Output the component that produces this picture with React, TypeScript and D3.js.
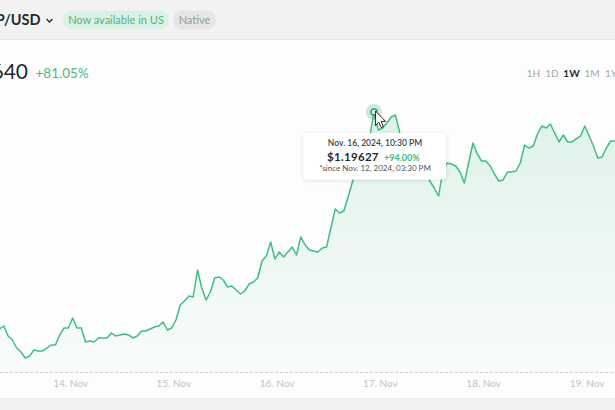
import React from "react";
import * as d3 from "d3";

// Hourly prices (USD), starting Nov 13 2024 06:30 UTC
const startTime = Date.UTC(2024, 10, 13, 6, 30);
const prices = [
  0.6917, 0.6986, 0.7055, 0.6826, 0.6734, 0.655, 0.6459, 0.6321, 0.6367, 0.6505,
  0.6482, 0.6482, 0.655, 0.6619, 0.6619, 0.6849, 0.7009, 0.7009,
  // Nov 14
  0.7238, 0.7009, 0.7009, 0.6688, 0.6711, 0.6688, 0.678, 0.678, 0.678, 0.6894,
  0.6826, 0.6849, 0.6871, 0.6849, 0.678, 0.6826, 0.694, 0.694, 0.6986, 0.7032,
  0.7055, 0.7147, 0.6963, 0.7009,
  // Nov 15
  0.7193, 0.7537, 0.7628, 0.7743, 0.772, 0.8339, 0.7926, 0.7651, 0.7835, 0.8156,
  0.8179, 0.811, 0.7949, 0.7972, 0.7881, 0.7789, 0.7858, 0.8018, 0.8064, 0.8156,
  0.8546, 0.866, 0.8981, 0.8592,
  // Nov 16
  0.8752, 0.8637, 0.8752, 0.8867, 0.8683, 0.9096, 0.8913, 0.8798, 0.8775, 0.8752,
  0.8844, 0.8867, 0.9302, 0.9738, 0.9647, 0.9692, 1.0013, 1.0357, 1.0679, 1.0977,
  1.1206, 1.1367, 1.19627, 1.155,
  // Nov 17
  1.1596, 1.1711, 1.1848, 1.1894, 1.1481, 1.1206, 1.1045, 1.1137, 1.0908, 1.0747,
  1.0587, 1.038, 1.022, 1.0036, 1.0587, 1.0793, 1.077, 1.0724, 1.0587, 1.0335,
  1.0793, 1.1252, 1.1, 1.0839,
  // Nov 18
  1.0839, 1.0724, 1.0541, 1.038, 1.0403, 1.0587, 1.0587, 1.061, 1.0793, 1.1206,
  1.1137, 1.1183, 1.1458, 1.1642, 1.1596, 1.1688, 1.1481, 1.1275, 1.1435, 1.1275,
  1.1275, 1.1344, 1.1412, 1.1642,
  // Nov 19
  1.1412, 1.1183, 1.0908, 1.0931, 1.1137, 1.1298, 1.1298, 1.1275,
];
const periods = ["1H", "1D", "1W", "1M", "1Y"];
const activePeriod = "1W";
const tooltipTime = Date.UTC(2024, 10, 16, 22, 30);
const tooltipDate = "Nov. 16, 2024, 10:30 PM";
const tooltipPrice = "$1.19627";
const tooltipChange = "+94.00%";
const tooltipSince = "*since Nov. 12, 2024, 03:30 PM";
const pairName = "XRP/USD";
const currentPrice = "$1.11640";
const currentChange = "+81.05%";

const W = 615;
const H = 410;
const GREEN = "#3fbd84";
const FONT = "Lato, 'Open Sans', sans-serif";

export default function App() {
  const data = prices.map((p, i) => ({ t: new Date(startTime + i * 3600000), p }));
  const x = d3
    .scaleUtc()
    .domain([new Date(Date.UTC(2024, 10, 14)), new Date(Date.UTC(2024, 10, 19))])
    .range([70.5, 587]);
  const y = d3.scaleLinear().domain([0.6, 1.19627]).range([372, 112]);
  const baseY = 372;

  const line = d3
    .line<{ t: Date; p: number }>()
    .x((d) => x(d.t))
    .y((d) => y(d.p));
  const area = d3
    .area<{ t: Date; p: number }>()
    .x((d) => x(d.t))
    .y0(baseY)
    .y1((d) => y(d.p));

  const ticks = d3.utcDay.range(new Date(Date.UTC(2024, 10, 14)), new Date(Date.UTC(2024, 10, 20)));
  const fmt = d3.utcFormat("%-d. %b");

  const tIdx = Math.round((tooltipTime - startTime) / 3600000);
  const tp = data[tIdx];
  const mx = x(tp.t);
  const my = y(tp.p);

  const periodX = [533.5, 552, 571.5, 592, 611];

  return (
    <svg
      width={W}
      height={H}
      style={{ position: "absolute", left: 0, top: 0, display: "block" }}
      fontFamily={FONT}
    >
      <defs>
        <linearGradient id="areaGrad" x1="0" y1="0" x2="0" y2="1">
          <stop offset="0%" stopColor={GREEN} stopOpacity={0.16} />
          <stop offset="100%" stopColor={GREEN} stopOpacity={0.02} />
        </linearGradient>
        <filter id="shadow" x="-20%" y="-30%" width="140%" height="160%">
          <feDropShadow dx="0" dy="1" stdDeviation="2" floodColor="#000" floodOpacity="0.12" />
        </filter>
        <clipPath id="cardClip">
          <rect x={0} y={40} width={W} height={358} />
        </clipPath>
      </defs>

      {/* background bands */}
      <rect x={0} y={0} width={W} height={H} fill="#f2f2f2" />
      <rect x={0} y={39.5} width={W} height={359} fill="#fdfdfd" />
      <line x1={0} x2={W} y1={39.5} y2={39.5} stroke="#e8e8e8" />
      <line x1={0} x2={W} y1={398.5} y2={398.5} stroke="#ececec" />

      {/* header */}
      <text x={40.5} y={25} textAnchor="end" fontSize={14.5} fontWeight={700} fill="#1d2b33">
        {pairName}
      </text>
      <path d="M46.5,19 L49.5,22 L52.5,19" fill="none" stroke="#1d2b33" strokeWidth={1.4} />
      <rect x={63} y={10.5} width={106} height={19} rx={9.5} fill="#dcf1e5" />
      <text x={116} y={24} textAnchor="middle" fontSize={11} fill="#4cb37f">
        Now available in US
      </text>
      <rect x={173} y={10.5} width={43} height={19} rx={9.5} fill="#e6e6e6" />
      <text x={194.5} y={24} textAnchor="middle" fontSize={11} fill="#9a9a9a">
        Native
      </text>

      <text x={28} y={78.5} textAnchor="end" fontSize={21} fill="#1d2b33">
        {currentPrice}
      </text>
      <text x={35.5} y={78} fontSize={13.5} fill="#4cb983">
        {currentChange}
      </text>

      {periods.map((p, i) => (
        <text
          key={p}
          x={periodX[i]}
          y={77}
          textAnchor="middle"
          fontSize={10}
          fontWeight={p === activePeriod ? 700 : 400}
          fill={p === activePeriod ? "#1d2b33" : "#a6a6a6"}
        >
          {p}
        </text>
      ))}

      {/* chart */}
      <g clipPath="url(#cardClip)">
        <path d={area(data) || ""} fill="url(#areaGrad)" />
        <path d={line(data) || ""} fill="none" stroke={GREEN} strokeWidth={1.5} strokeLinejoin="round" />
      </g>
      <line x1={0} x2={W} y1={baseY + 0.5} y2={baseY + 0.5} stroke="#cfcfcf" strokeDasharray="3,2" />
      {ticks.map((t) => (
        <text key={t.getTime()} x={x(t)} y={387} textAnchor="middle" fontSize={10} fill="#c2c2c2">
          {fmt(t)}
        </text>
      ))}

      {/* hover marker */}
      <circle cx={mx} cy={my} r={8} fill={GREEN} opacity={0.28} />
      <circle cx={mx} cy={my} r={3} fill="#fff" stroke="#2f9e6a" strokeWidth={1.5} />

      {/* tooltip */}
      <g filter="url(#shadow)">
        <rect x={303.5} y={133} width={142.5} height={46.5} rx={4} fill="#fff" />
      </g>
      <text x={375} y={145.5} textAnchor="middle" fontSize={8.5} fill="#444" fontWeight={600}>
        {tooltipDate}
      </text>
      <text x={327} y={161} fontSize={11.5} fontWeight={700} fill="#1d2b33" letterSpacing={0.3}>
        {tooltipPrice}
      </text>
      <text x={384} y={161} fontSize={9} fontWeight={700} fill="#3fbd84">
        {tooltipChange}
      </text>
      <text x={375} y={171} textAnchor="middle" fontSize={8} fill="#555">
        {tooltipSince}
      </text>

      {/* cursor */}
      <path
        d="M0,0 L0,14.5 L3.4,11.2 L5.8,16.6 L8,15.6 L5.7,10.4 L10.2,10.4 Z"
        transform={`translate(${mx + 1.5},${my - 1})`}
        fill="#fff"
        stroke="#111"
        strokeWidth={0.9}
        strokeLinejoin="round"
      />
    </svg>
  );
}
